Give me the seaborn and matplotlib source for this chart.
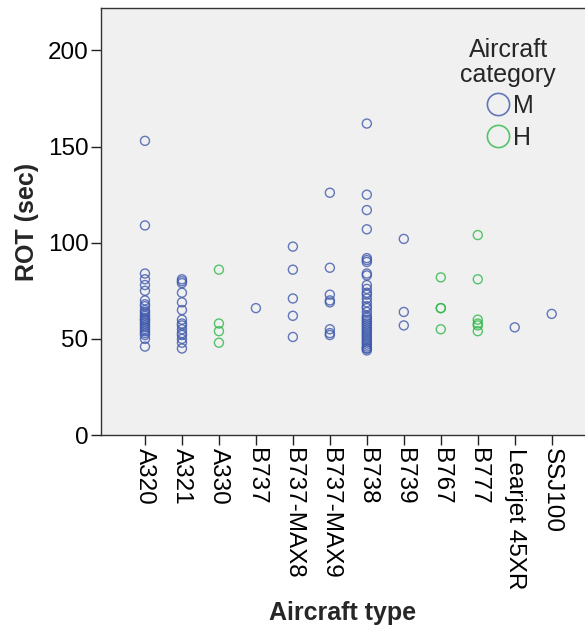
import matplotlib
matplotlib.use("Agg")
import matplotlib.pyplot as plt
from matplotlib.lines import Line2D
import seaborn as sns
import pandas as pd

types = ["A320", "A321", "A330", "B737", "B737-MAX8", "B737-MAX9", "B738",
         "B739", "B767", "B777", "Learjet 45XR", "SSJ100"]
type_category = {"A320": "M", "A321": "M", "A330": "H", "B737": "M",
                 "B737-MAX8": "M", "B737-MAX9": "M", "B738": "M", "B739": "M",
                 "B767": "H", "B777": "H", "Learjet 45XR": "M", "SSJ100": "M"}

rot_a320 = [153, 109, 84, 81, 78, 75, 70, 68, 67, 65, 64, 63, 62, 61, 60, 60,
            59, 58, 57, 56, 55, 54, 53, 52, 50, 46]
rot_a321 = [81, 80, 79, 74, 69, 65, 60, 58, 57, 55, 53, 52, 50, 48, 45]
rot_a330 = [86, 58, 54, 48]
rot_b737 = [66]
rot_b737_max8 = [98, 86, 71, 62, 51]
rot_b737_max9 = [126, 87, 73, 70, 69, 55, 53, 52]
rot_b738 = [162, 125, 117, 107, 92, 91, 90, 84, 83, 78, 76, 74, 73, 71, 69, 67,
            66, 64, 62, 61, 60, 59, 58, 57, 56, 55, 54, 53, 52, 51, 50, 49, 48,
            47, 46, 45, 45, 44]
rot_b739 = [102, 64, 57]
rot_b767 = [82, 66, 66, 55]
rot_b777 = [104, 81, 60, 58, 57, 54]
rot_learjet = [56]
rot_ssj100 = [63]

categories = ["M", "H"]
cat_colors = ["#3E58AC", "#2EB848"]

series = [rot_a320, rot_a321, rot_a330, rot_b737, rot_b737_max8, rot_b737_max9,
          rot_b738, rot_b739, rot_b767, rot_b777, rot_learjet, rot_ssj100]
rows = []
for t, vals in zip(types, series):
    for v in vals:
        rows.append({"Aircraft type": t, "ROT": v, "cat": type_category[t]})
df = pd.DataFrame(rows)

sns.set_theme(style="ticks")
plt.rcParams["font.family"] = ["Liberation Sans", "DejaVu Sans"]

fig = plt.figure(figsize=(5.85, 6.3), dpi=100)
ax = fig.add_axes([0.1726, 0.3095, 0.8274, 0.6775])
ax.set_facecolor("#F0F0F0")

sns.stripplot(data=df, x="Aircraft type", y="ROT", hue="cat", order=types,
              hue_order=categories, palette=dict(zip(categories, cat_colors)),
              jitter=False, dodge=False, size=6.5, linewidth=0, ax=ax,
              legend=False)
for coll in ax.collections:
    fc = coll.get_facecolor()
    coll.set_facecolor("none")
    coll.set_edgecolor(fc)
    coll.set_linewidth(1.0)
    coll.set_alpha(0.8)

ax.set_ylim(0, 222)
ax.set_xlim(-1.19, 11.9)
ax.set_yticks([0, 50, 100, 150, 200])
ax.tick_params(axis="both", direction="out", length=7, width=1, colors="#222222",
               labelsize=17.5, labelcolor="black", pad=2)
plt.setp(ax.get_xticklabels(), rotation=-90, ha="center", va="top")
for s in ["left", "bottom", "top"]:
    ax.spines[s].set_color("#333333")
    ax.spines[s].set_linewidth(1)
ax.spines["right"].set_visible(False)

ax.set_ylabel("ROT (sec)", fontsize=18, fontweight="bold", labelpad=6)
ax.set_xlabel("Aircraft type", fontsize=18, fontweight="bold", va="top")
ax.xaxis.set_label_coords(0.5, -0.39)

handles = [Line2D([], [], linestyle="none", marker="o", markersize=16,
                  markerfacecolor="none", markeredgecolor=c, markeredgewidth=1.2,
                  alpha=0.8)
           for c in cat_colors]
leg = ax.legend(handles, categories, title="Aircraft\ncategory", loc="upper right",
                bbox_to_anchor=(0.976, 0.972), frameon=False, fontsize=18,
                title_fontsize=18, handletextpad=0.0, labelspacing=0.3,
                handlelength=1.2, borderpad=0.2)
leg._legend_box.align = "center"
leg.get_title().set_linespacing(1.05)
leg.get_title().set_multialignment("center")

fig.savefig("out.png", dpi=100, facecolor="white")
